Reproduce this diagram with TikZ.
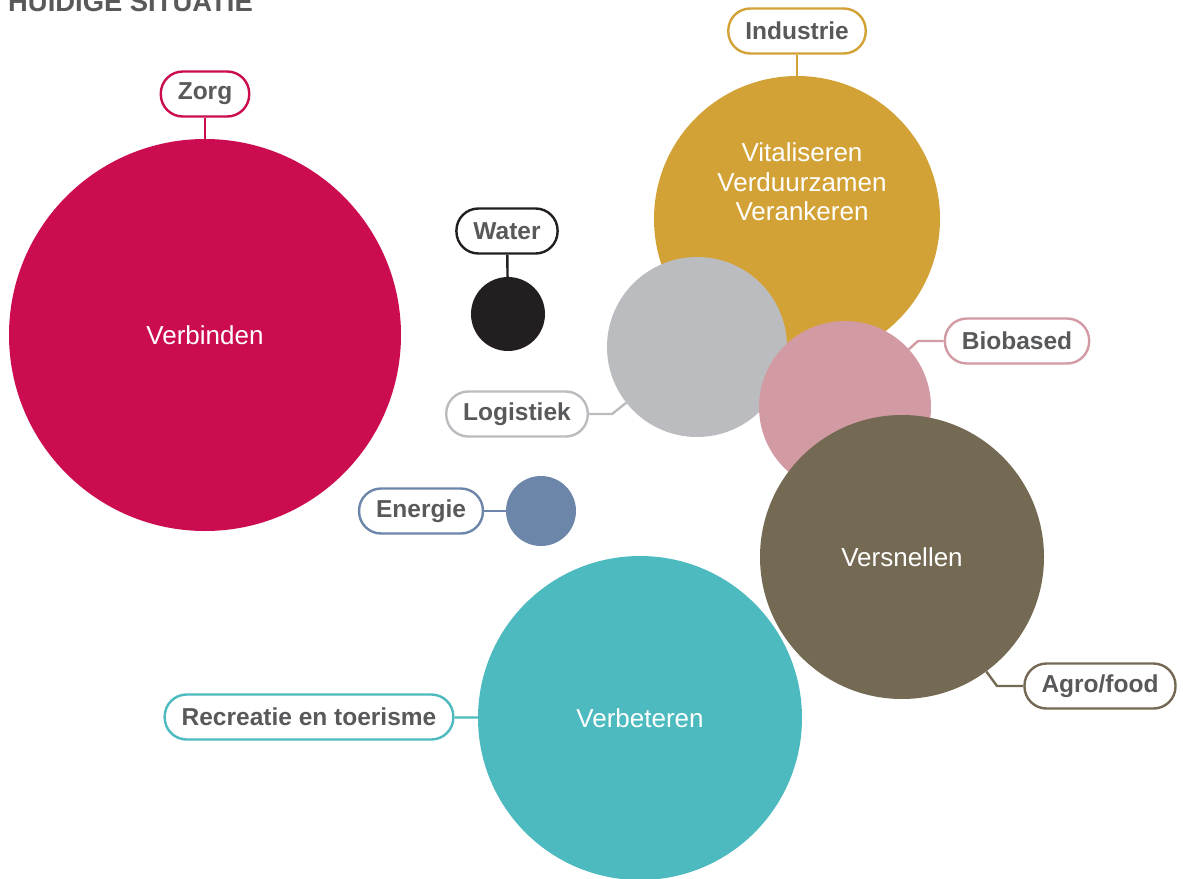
\documentclass[tikz,border=0pt]{standalone}
\usepackage{fontspec}
\setmainfont{Liberation Sans}
\usetikzlibrary{positioning}

\definecolor{zorgred}{RGB}{204,12,80}
\definecolor{industriegold}{RGB}{211,162,54}
\definecolor{logigrey}{RGB}{187,188,191}
\definecolor{biopink}{RGB}{210,155,164}
\definecolor{agrobrown}{RGB}{116,105,82}
\definecolor{energieblue}{RGB}{107,134,169}
\definecolor{recrteal}{RGB}{77,186,192}
\definecolor{waterblack}{RGB}{35,31,32}
\definecolor{labelgrey}{RGB}{88,89,91}

\begin{document}
\begin{tikzpicture}[x=1pt, y=-1pt,
    tag/.style={draw=#1, line width=2.4pt, rounded corners=22pt, fill=white,
        minimum height=45pt, inner xsep=17pt, inner ysep=4pt, text=labelgrey,
        font=\fontsize{24.5}{28}\selectfont\bfseries},
    bubble/.style={circle, fill=#1, draw=none, inner sep=0pt, text=white,
        font=\fontsize{26}{29.5}\selectfont, align=center},
    link/.style={draw=#1, line width=2.4pt}]

    \useasboundingbox (0,0) rectangle (1183,878);

    % ------------------ Title ------------------
    \node[anchor=base west, inner sep=0pt, text=labelgrey,
        font=\fontsize{27.4}{30}\selectfont\bfseries] (title) at (8,12) {HUIDIGE SITUATIE};

    % ------------------ Labels ------------------
    \node[tag=zorgred] (zorg) at (205,94) {Zorg};
    \node[tag=industriegold] (industrie) at (797,31) {Industrie};
    \node[tag=waterblack] (water) at (507,231) {Water};
    \node[tag=biopink] (biobased) at (1017,341) {Biobased};
    \node[tag=logigrey] (logistiek) at (517,414) {Logistiek};
    \node[tag=energieblue] (energie) at (421,511) {Energie};
    \node[tag=agrobrown] (agrofood) at (1100,686) {Agro/food};
    \node[tag=recrteal] (recreatie) at (309,717) {Recreatie en toerisme};

    % ------------------ Circles ------------------
    \node[bubble=zorgred, minimum size=392pt] (verbinden) at (205,335) {Verbinden};
    \node[bubble=waterblack, minimum size=74pt] (waterc) at (508,314) {};
    \node[bubble=industriegold, minimum size=286pt] (industriec) at (797,219) {};
    \node[bubble=logigrey, minimum size=180pt] (logistiekc) at (697,347) {};
    \node[bubble=biopink, minimum size=172pt] (biobasedc) at (845,407) {};
    \node[bubble=agrobrown, minimum size=284pt] (versnellen) at (902,557) {Versnellen};
    \node[bubble=energieblue, minimum size=70pt] (energiec) at (541,511) {};
    \node[bubble=recrteal, minimum size=324pt] (verbeteren) at (640,718) {Verbeteren};

    \node[text=white, font=\fontsize{26}{29.5}\selectfont, align=center] (doelen) at (802,182)
        {Vitaliseren\\Verduurzamen\\Verankeren};

    % Bends
    \coordinate (bioknik) at (918,341);
    \coordinate (logiknik) at (612,414);
    \coordinate (agroknik) at (997,686);

    % Connectors
    \draw[link=zorgred] (zorg) -- (verbinden);
    \draw[link=industriegold] (industrie) -- (industriec);
    \draw[link=waterblack] (water) -- (waterc);
    \draw[link=biopink] (biobased) -- (bioknik) -- (biobasedc);
    \draw[link=logigrey] (logistiek) -- (logiknik) -- (logistiekc);
    \draw[link=energieblue] (energie) -- (energiec);
    \draw[link=agrobrown] (agrofood) -- (agroknik) -- (versnellen);
    \draw[link=recrteal] (recreatie) -- (verbeteren);

\end{tikzpicture}
\end{document}
